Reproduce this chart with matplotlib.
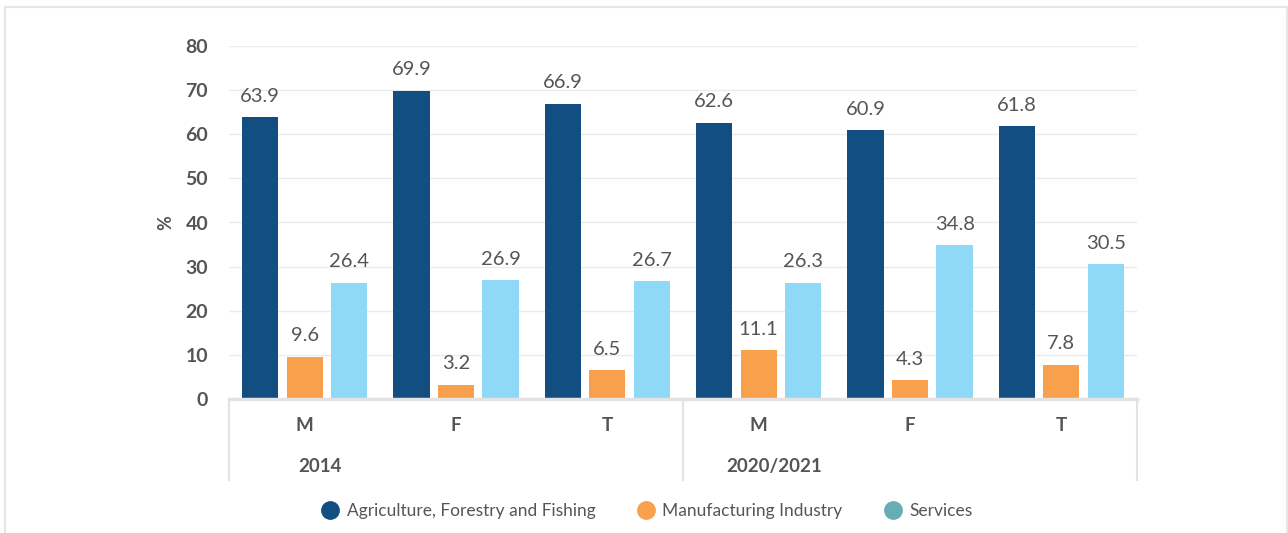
import matplotlib
matplotlib.use('Agg')
import numpy as np
import matplotlib.pyplot as plt
import matplotlib.transforms as mtransforms
from matplotlib.patches import Rectangle
from matplotlib.lines import Line2D

plt.rcParams['font.family'] = ['Lato', 'DejaVu Sans']

# Employment share by sector (%), grouped by year and sex
years = ['2014', '2020/2021']
sexes = ['M', 'F', 'T']
sectors = ['Agriculture, Forestry and Fishing', 'Manufacturing Industry', 'Services']
agriculture = [63.9, 69.9, 66.9, 62.6, 60.9, 61.8]
manufacturing = [9.6, 3.2, 6.5, 11.1, 4.3, 7.8]
services = [26.4, 26.9, 26.7, 26.3, 34.8, 30.5]
yticks = [0, 10, 20, 30, 40, 50, 60, 70, 80]

bar_colors = ['#124e82', '#f8a04b', '#8fd9f6']
legend_colors = ['#124e82', '#f8a04b', '#66aeb3']
text_gray = '#555555'
grid_gray = '#ebebeb'

fig = plt.figure(figsize=(12.88, 5.33), dpi=100)
ax = fig.add_axes([229 / 1288, 1 - 399 / 533, 908 / 1288, 353 / 533])

# light frame around the whole panel
fig.patches.append(Rectangle((5 / 1288, -0.05), 1282 / 1288, 1.05 - 7 / 533,
                             transform=fig.transFigure, fill=False,
                             edgecolor='#e6e6e6', linewidth=1.5))

x = np.arange(len(agriculture))
width = 0.24
offset = 0.295
for series, off, color in zip([agriculture, manufacturing, services],
                              [-offset, 0, offset], bar_colors):
    bars = ax.bar(x + off, series, width=width, color=color, zorder=3)
    for b, v in zip(bars, series):
        ax.annotate(f'{v:.1f}', (b.get_x() + b.get_width() / 2, v),
                    xytext=(0, 9), textcoords='offset points',
                    ha='center', va='bottom', fontsize=14.5, color=text_gray)

ax.set_xlim(-0.5, 5.5)
ax.set_ylim(0, 80)
ax.set_yticks(yticks)
ax.set_yticklabels([str(t) for t in yticks], fontsize=14, fontweight='bold', color=text_gray)
ax.tick_params(axis='y', length=0, pad=15)
ax.set_xticks([])
ax.grid(axis='y', color=grid_gray, linewidth=1, zorder=0)
for s in ['top', 'right', 'left']:
    ax.spines[s].set_visible(False)
ax.spines['bottom'].set_color('#e3e3e3')
ax.spines['bottom'].set_linewidth(2.5)
ax.spines['bottom'].set_zorder(4)

ax.set_ylabel('%', fontsize=13, fontweight='bold', color=text_gray, labelpad=8)

# two-level category axis below the bars
trans = mtransforms.blended_transform_factory(ax.transData, ax.transAxes)
for i in range(len(agriculture)):
    ax.text(i, -0.074, sexes[i % 3], transform=trans, ha='center', va='center',
            fontsize=13.5, fontweight='bold', color=text_gray)
for j, yr in enumerate(years):
    ax.text(3 * j + 0.1, -0.19, yr, transform=trans, ha='center', va='center',
            fontsize=13.5, fontweight='bold', color=text_gray)
for xs in [-0.5, 2.5, 5.5]:
    ax.add_line(Line2D([xs, xs], [0, -0.23], transform=trans, color='#e3e3e3',
                       linewidth=1.5, clip_on=False))

handles = [Line2D([], [], marker='o', linestyle='none', markersize=12.5,
                  markerfacecolor=c, markeredgecolor=c) for c in legend_colors]
leg = fig.legend(handles, sectors, loc='center', bbox_to_anchor=(647 / 1288, 1 - 511 / 533),
                 ncol=3, frameon=False, fontsize=12.5, handlelength=1.0,
                 handletextpad=0.45, columnspacing=2.4, labelcolor=text_gray)

fig.savefig('out.png', dpi=100)
